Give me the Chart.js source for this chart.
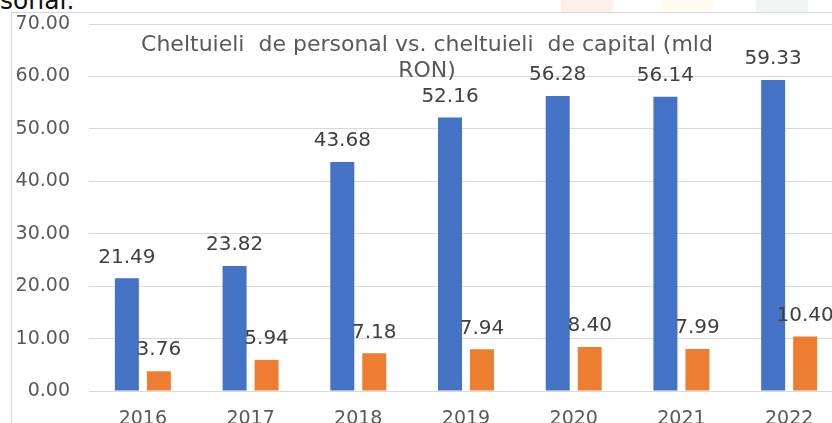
<!DOCTYPE html>
<html>
<head>
<meta charset="utf-8">
<script src="https://cdn.jsdelivr.net/npm/chart.js@4/dist/chart.umd.min.js"></script>
<style>
  html, body { margin: 0; padding: 0; background: #fff; width: 832px; height: 423px; overflow: hidden; }
  #wrap { position: relative; width: 832px; height: 423px; overflow: hidden; }
  #chart { position: absolute; left: 0; top: 0; }
  #frame { position: absolute; left: 11px; top: 12px; width: 900px; height: 500px;
           border-left: 1px solid #d9d9d9; border-top: 1px solid #d9d9d9; }
  #above { position: absolute; left: 0; top: -12px; font: 25px/25px "DejaVu Sans", Verdana, sans-serif; color: #111; }
  .tab { position: absolute; top: 0; height: 12px; width: 52px; }
</style>
</head>
<body>
<div id="wrap">
  <div class="tab" style="left:561px;background:#fdf0eb"></div>
  <div class="tab" style="left:661px;background:#fffbf1"></div>
  <div class="tab" style="left:756px;background:#f1f6f5"></div>
  <div id="above">sonal.</div>
  <div id="frame"></div>
  <canvas id="chart" width="860" height="450"></canvas>
</div>
<script>
// values (mld RON)
const years = ["2016", "2017", "2018", "2019", "2020", "2021", "2022"];
const personal = [21.49, 23.82, 43.68, 52.16, 56.28, 56.14, 59.33];
const capital = [3.76, 5.94, 7.18, 7.94, 8.40, 7.99, 10.40];
const titleLines = ["Cheltuieli  de personal vs. cheltuieli  de capital (mld", "RON)"];

const FONT = '"DejaVu Sans", Verdana, sans-serif';

// value labels above each bar
const barLabels = {
  id: "barLabels",
  afterDatasetsDraw(chart) {
    const ctx = chart.ctx;
    ctx.save();
    ctx.font = "20px " + FONT;
    ctx.fillStyle = "#404040";
    ctx.textAlign = "center";
    ctx.textBaseline = "middle";
    chart.data.datasets.forEach((ds, i) => {
      chart.getDatasetMeta(i).data.forEach((bar, j) => {
        ctx.fillText(ds.data[j].toFixed(2), bar.x, bar.y - 21);
      });
    });
    ctx.restore();
  }
};

// Excel style title sitting over the plot area
const overlayTitle = {
  id: "overlayTitle",
  afterDraw(chart) {
    const ctx = chart.ctx;
    ctx.save();
    ctx.font = "22px " + FONT;
    ctx.fillStyle = "#595959";
    ctx.textAlign = "center";
    ctx.textBaseline = "middle";
    titleLines.forEach((t, i) => ctx.fillText(t, 427, 45 + i * 26));
    ctx.restore();
  }
};

new Chart(document.getElementById("chart"), {
  type: "bar",
  data: {
    labels: years,
    datasets: [
      { label: "Cheltuieli de personal", data: personal, backgroundColor: "#4472c4" },
      { label: "Cheltuieli de capital", data: capital, backgroundColor: "#ed7d31" }
    ]
  },
  options: {
    responsive: false,
    animation: false,
    categoryPercentage: 0.594,
    barPercentage: 0.75,
    layout: { padding: { left: 0, right: 17, top: 24, bottom: 0 } },
    plugins: {
      legend: { display: false },
      title: { display: false },
      tooltip: { enabled: false }
    },
    scales: {
      x: {
        grid: { display: false },
        border: { display: false },
        ticks: { color: "#595959", font: { family: FONT, size: 19 }, padding: 9 },
        afterFit(scale) { scale.height = 59; }
      },
      y: {
        min: 0,
        max: 70,
        grid: { color: "#d9d9d9", drawTicks: false },
        border: { display: false },
        ticks: {
          stepSize: 10,
          color: "#595959",
          font: { family: FONT, size: 19 },
          padding: 19,
          callback: (v) => v.toFixed(2)
        },
        afterFit(scale) {
          scale.width = 89;
          scale.paddingTop = 0;
          scale.paddingBottom = 0;
        }
      }
    }
  },
  plugins: [barLabels, overlayTitle]
});
</script>
</body>
</html>
